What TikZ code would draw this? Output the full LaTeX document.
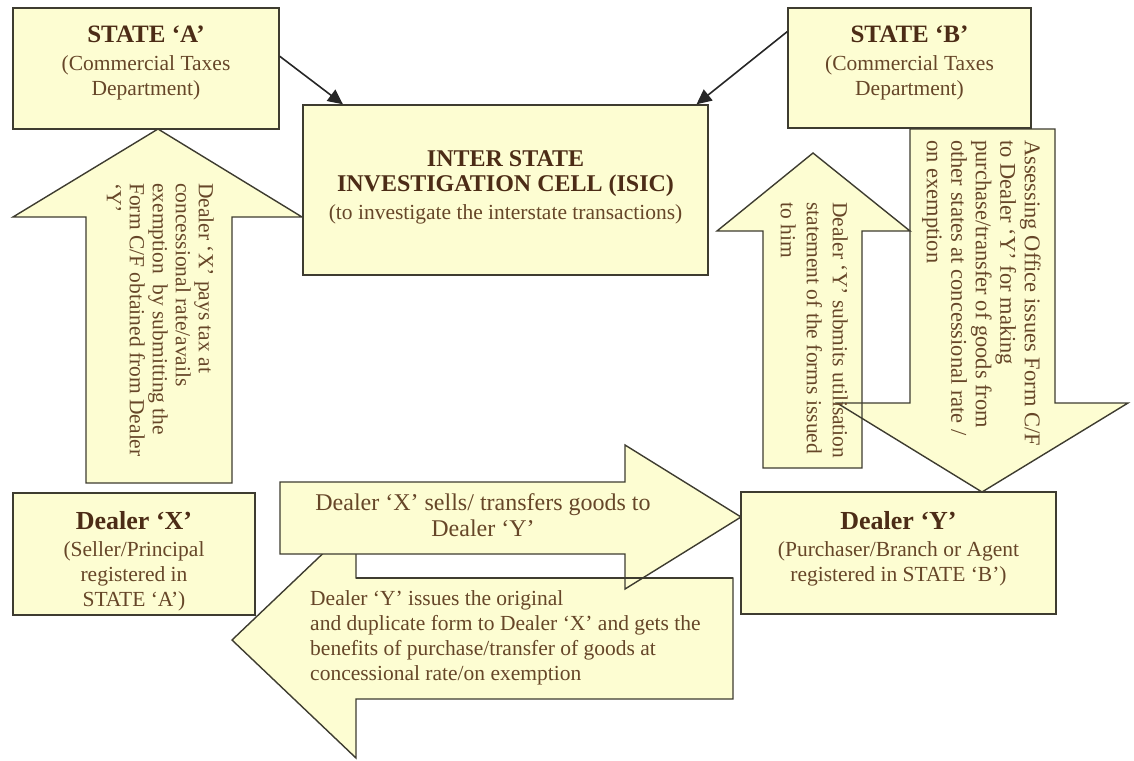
\documentclass[tikz,border=0pt]{standalone}
\usepackage{fontspec}
\setmainfont{Liberation Serif}
\usepackage{tikz}
\usetikzlibrary{calc,arrows.meta}
\definecolor{boxfill}{RGB}{253,253,210}
\definecolor{boxline}{RGB}{62,60,48}
\definecolor{headbrown}{RGB}{76,44,22}
\definecolor{textbrown}{RGB}{102,70,40}
\newcommand{\boxhead}[2]{{\fontsize{#1}{#1}\selectfont\bfseries\color{headbrown}#2}}
\newcommand{\bodytext}{\fontsize{21.5}{25}\selectfont}
\tikzset{
	box/.style={draw=boxline, fill=boxfill, line width=1.4pt, align=center, text=textbrown, font=\bodytext, inner sep=0pt},
	blockarrow/.style={draw=boxline, fill=boxfill, line width=1.4pt},
	vtext/.style={rotate=-90, align=left, text=textbrown, inner sep=0pt, anchor=north west},
	link/.style={draw=black!85, line width=1.6pt, -{Triangle[length=15pt,width=14pt]}}
}

\begin{document}
\begin{tikzpicture}[x=1pt, y=-1pt]
			%%%%% START %%%%%
			\useasboundingbox (0,0) rectangle (1134,760);
			
			\draw[blockarrow] (733,578) -- (356,578) -- (356,522) -- (232,640) -- (356,758) -- (356,699) -- (733,699) -- cycle;
			\draw[blockarrow] (280,482) -- (625,482) -- (625,445) -- (741,517) -- (625,589) -- (625,554) -- (280,554) -- cycle;
			\draw[draw=boxline, line width=1.4pt] (356,578) -- (733,578);
			
			\draw[blockarrow] (86,483) -- (86,217) -- (13,217) -- (158,129) -- (302,217) -- (232,217) -- (232,483) -- cycle;
			
			\fill[boxfill] (763,468) -- (763,231) -- (717,231) -- (813,153) -- (910,231) -- (862,231) -- (862,468) -- cycle;
			\fill[boxfill] (910,129) -- (1055,129) -- (1055,403) -- (1128,403) -- (982,492) -- (837,403) -- (910,403) -- cycle;
			\draw[draw=boxline, line width=1.4pt] (763,468) -- (763,231) -- (717,231) -- (813,153) -- (910,231) -- (862,231) -- (862,468) -- cycle;
			\draw[draw=boxline, line width=1.4pt] (910,129) -- (1055,129) -- (1055,403) -- (1128,403) -- (982,492) -- (837,403) -- (910,403) -- cycle;
			
			\node[box, minimum width=266pt, minimum height=121pt] (stateA) at (146,68.5) {\boxhead{25}{STATE ‘A’}\\[3pt] (Commercial Taxes\\ Department)\rule[-15pt]{0pt}{1pt}};
			\node[box, minimum width=243pt, minimum height=120pt] (stateB) at (909.5,68) {\boxhead{25}{STATE ‘B’}\\[3pt] (Commercial Taxes\\ Department)\rule[-15pt]{0pt}{1pt}};
			\node[box, minimum width=405pt, minimum height=170pt] (isic) at (505.5,190) {\boxhead{24}{INTER STATE}\\ \boxhead{24}{INVESTIGATION CELL (ISIC)}\\[3pt] (to investigate the interstate transactions)\rule[-10pt]{0pt}{1pt}};
			\node[box, minimum width=242pt, minimum height=122pt] (dealerX) at (134,554) {\rule{0pt}{32pt}\boxhead{26}{Dealer ‘X’}\\[2pt] (Seller/Principal\\ registered in\\ STATE ‘A’)};
			\node[box, minimum width=315pt, minimum height=122pt] (dealerY) at (898.5,553) {\boxhead{26}{Dealer ‘Y’}\\[2pt] (Purchaser/Branch or Agent\\ registered in STATE ‘B’)\rule[-13pt]{0pt}{1pt}};
			
			\draw[link] ($(stateA.north east)!0.4!(stateA.south east)$) -- ($(isic.north west)!0.1!(isic.north east)$);
			\draw[link] ($(stateB.north west)!0.2!(stateB.south west)$) -- ($(isic.north west)!0.97!(isic.north east)$);
			
			\node[vtext, font=\fontsize{21.5}{23}\selectfont] (payText) at (214,183) {Dealer ‘X’ pays tax at\\ concessional rate/avails\\ exemption \ by submitting the\\ Form C/F obtained from Dealer\\ ‘Y’};
			\node[vtext, font=\fontsize{22.5}{24.5}\selectfont] (issueText) at (1041,140) {Assessing Office issues Form C/F\\ to Dealer ‘Y’ for making\\ purchase/transfer of goods from\\ other states at concessional rate /\\ on exemption};
			\node[vtext, font=\fontsize{21.5}{26}\selectfont] (utilText) at (848,202) {Dealer ‘Y’ submits utilisation\\ statement of the forms issued\\ to him};
			
			\node[align=center, text=textbrown, font=\fontsize{24}{26}\selectfont] (sellText) at (483,515) {Dealer ‘X’ sells/ transfers goods to\\ Dealer ‘Y’};
			\node[align=left, text=textbrown, inner sep=0pt, anchor=north west, font=\fontsize{21.5}{25}\selectfont] (formText) at (310,590) {Dealer ‘Y’ issues the original\\ and duplicate form to Dealer ‘X’ and gets the\\ benefits of purchase/transfer of goods at\\ concessional rate/on exemption};
			
			%%%%% END %%%%%
		\end{tikzpicture}
\end{document}
